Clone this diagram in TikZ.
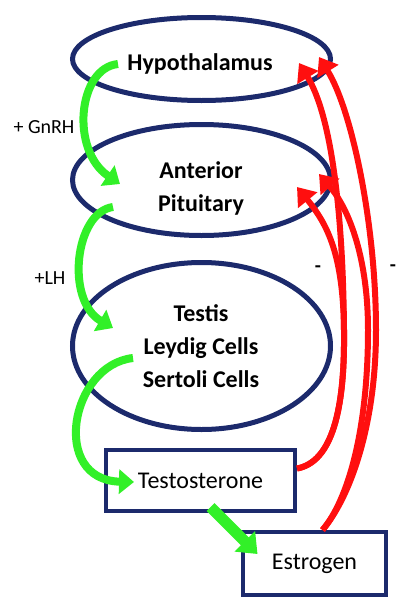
\documentclass[tikz,border=0pt]{standalone}
\usepackage{fontspec}
\setmainfont{Carlito}
\usetikzlibrary{arrows.meta,shapes.geometric}
\definecolor{organblue}{RGB}{28,42,108}
\definecolor{stimgreen}{RGB}{50,240,40}
\definecolor{inhibred}{RGB}{255,15,15}
\tikzset{
  organ/.style={ellipse,draw=organblue,line width=5pt,inner sep=0pt},
  organtext/.style={align=center,font=\fontsize{24}{33}\selectfont\bfseries},
  hormone/.style={rectangle,draw=organblue,line width=4pt,inner sep=0pt,font=\fontsize{24}{29}\selectfont},
  stim/.style={draw=stimgreen,line width=8pt,-{Triangle[width=24pt,length=15pt]}},
  inhib/.style={draw=inhibred,line width=6pt,-{Triangle[width=24pt,length=17pt]}},
  sign/.style={font=\fontsize{20}{24}\selectfont}
}
\begin{document}
\begin{tikzpicture}[x=1pt,y=-1pt]
	\useasboundingbox (0,0) rectangle (406,613);
	\node[organ,minimum width=258pt,minimum height=83pt] (hypo) at (201.5,59) {};
	\node[organ,minimum width=258pt,minimum height=111pt] (pit) at (201.5,180) {};
	\node[organ,minimum width=258pt,minimum height=167pt] (testis) at (201.5,346) {};
	\node[hormone,minimum width=189pt,minimum height=61pt] (testo) at (200.5,480.5) {Testosterone};
	\node[hormone,minimum width=143pt,minimum height=63pt] (estro) at (314.5,563.5) {Estrogen};
	\node[sign] (gnrh) at (44,127) {+ GnRH};
	\node[sign] (lh) at (50,278) {+LH};
	\node[sign,font=\fontsize{20}{24}\selectfont\bfseries] (minusT) at (318,269) {-};
	\node[sign,font=\fontsize{20}{24}\selectfont\bfseries] (minusE) at (393,268) {-};
	% arrow ends
	\coordinate (g1s) at (118,64);  \coordinate (g1e) at (120,184);
	\coordinate (g2s) at (113,207); \coordinate (g2e) at (113,328);
	\coordinate (g3s) at (133,358); \coordinate (g3e) at (134,482);
	\coordinate (hA) at (299,63);   \coordinate (hB) at (319,57);
	\coordinate (hC) at (297,187);  \coordinate (hD) at (319,174);
	\coordinate (tT) at ([yshift=12pt]testo.east);
	\coordinate (tE) at ([xshift=8pt]estro.north);
	% negative feedback
	\draw[inhib] (tT) .. controls (332,462) and (345,410) .. (344,330) .. controls (343,210) and (331,115) .. (hA);
	\draw[inhib] (tT) .. controls (332,462) and (345,410) .. (344,330) .. controls (343,255) and (328,225) .. (hC);
	\draw[inhib] (tE) .. controls (348,500) and (376,430) .. (376,330) .. controls (376,225) and (352,110) .. (hB);
	\draw[inhib] (tE) .. controls (348,500) and (368,430) .. (368,330) .. controls (368,260) and (350,210) .. (hD);
	% stimulation
	\draw[stim] (g1s) .. controls (78,68) and (70,150) .. (g1e);
	\draw[stim] (g2s) .. controls (75,212) and (65,300) .. (g2e);
	\draw[stim] (g3s) .. controls (70,365) and (50,480) .. (g3e);
	\draw[stim,line width=11pt,-{Triangle[width=28pt,length=18pt]}] ([xshift=10pt,yshift=6pt]testo.south) -- ([xshift=-57pt,yshift=-24pt]estro.north);
	\node[organtext] (hypotext) at (200,64) {Hypothalamus};
	\node[organtext] (pittext) at (201,188) {Anterior\\Pituitary};
	\node[organtext] (testistext) at (201,346) {Testis\\Leydig Cells\\Sertoli Cells};
\end{tikzpicture}
\end{document}
